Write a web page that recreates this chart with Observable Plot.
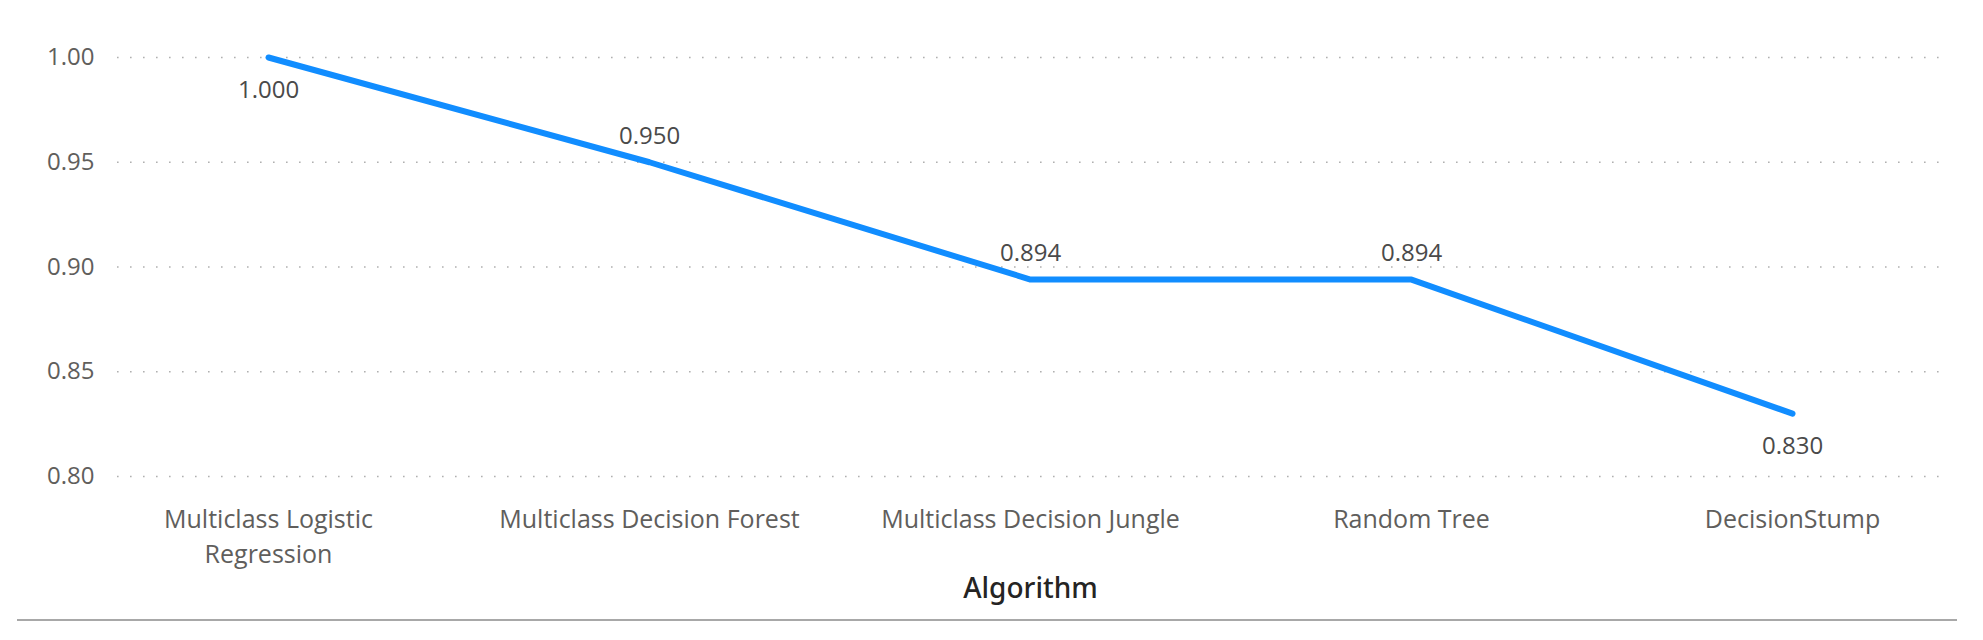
<!DOCTYPE html>
<html>
<head>
<meta charset="utf-8">
<script src="https://cdn.jsdelivr.net/npm/d3@7"></script>
<script src="https://cdn.jsdelivr.net/npm/@observablehq/plot@0.6"></script>
<style>
  html, body { margin: 0; padding: 0; background: #fff; }
  #wrap { position: relative; width: 1983px; height: 640px; }
  #rule { position: absolute; left: 17px; top: 619px; width: 1940px; height: 0; border-top: 2px solid #a8a8a8; }
</style>
</head>
<body>
<div id="wrap"><div id="rule"></div></div>
<script>
// Data
const algorithms = ["Multiclass Logistic Regression", "Multiclass Decision Forest", "Multiclass Decision Jungle", "Random Tree", "DecisionStump"];
const tickLabels = ["Multiclass Logistic\nRegression", "Multiclass Decision Forest", "Multiclass Decision Jungle", "Random Tree", "DecisionStump"];
const scores = [1.000, 0.950, 0.894, 0.894, 0.830];
const yTicks = [0.80, 0.85, 0.90, 0.95, 1.00];
const xTitle = "Algorithm";

const data = algorithms.map((a, i) => ({algorithm: a, score: scores[i], i}));
const n = data.length;
const below = data.filter(d => d.i === 0 || d.i === n - 1);
const above = data.filter(d => d.i !== 0 && d.i !== n - 1);
const labelOf = new Map(algorithms.map((a, i) => [a, tickLabels[i]]));
const font = "'Open Sans', 'Noto Sans', sans-serif";

const chart = Plot.plot({
  width: 1983,
  height: 640,
  marginTop: 57,
  marginBottom: 164,
  marginLeft: 117,
  marginRight: 40,
  style: {fontFamily: font, background: "#fff"},
  x: {type: "point", domain: algorithms, padding: 0.395},
  y: {domain: [0.8, 1.0]},
  marks: [
    Plot.gridY(yTicks, {stroke: "#b0b0b0", strokeOpacity: 1, strokeWidth: 1.6, strokeDasharray: "1.6,11.4"}),
    Plot.axisY(yTicks, {tickSize: 0, tickPadding: 23, tickFormat: d3.format(".2f"), fontSize: 24, fill: "#605e5c", label: null}),
    Plot.axisX({tickSize: 0, tickPadding: 27, tickFormat: d => labelOf.get(d), fontSize: 25, fill: "#605e5c", lineHeight: 1.4, label: null}),
    Plot.lineY(data, {x: "algorithm", y: "score", stroke: "#118dff", strokeWidth: 6}),
    Plot.text(below, {x: "algorithm", y: "score", text: d => d3.format(".3f")(d.score), dy: 33, fontSize: 24, fill: "#4a4a4a"}),
    Plot.text(above, {x: "algorithm", y: "score", text: d => d3.format(".3f")(d.score), dy: -26, fontSize: 24, fill: "#4a4a4a"}),
    Plot.text([xTitle], {frameAnchor: "bottom", dy: 121, fontSize: 28, fontWeight: 500, fill: "#252423", fontFamily: "'Noto Sans', sans-serif"})
  ]
});
document.getElementById("wrap").prepend(chart);
</script>
</body>
</html>
